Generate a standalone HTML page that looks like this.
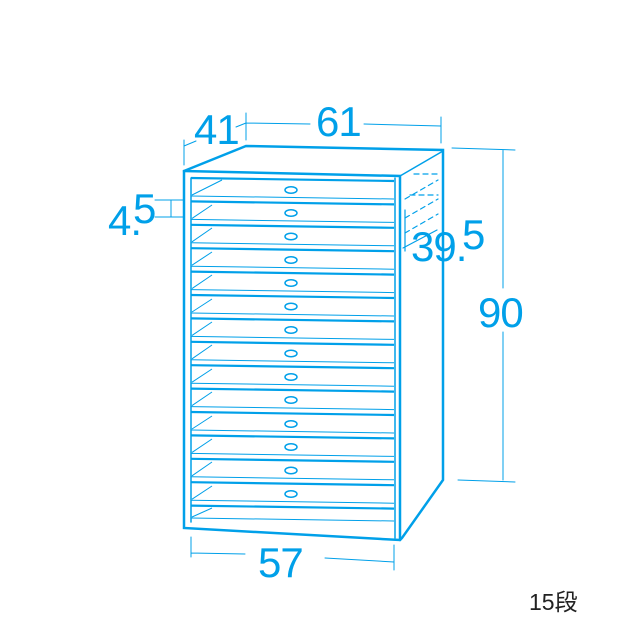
<!DOCTYPE html>
<html><head><meta charset="utf-8"><style>
html,body{margin:0;padding:0;background:#fff;width:640px;height:640px;overflow:hidden}
svg{display:block}
.t{font-family:"Liberation Sans",Arial,sans-serif;fill:#00a0e9;letter-spacing:-1px}
</style></head><body>
<svg width="640" height="640" viewBox="0 0 640 640" xmlns="http://www.w3.org/2000/svg">
<g stroke="#00a0e9" fill="none" stroke-linecap="round">
<path d="M184 171 L246 146 L443 150 L443 480 L402 538 L400 540 L184 528 Z" stroke-width="2.5"/>
<path d="M400 176 L443 151" stroke-width="1.5"/>
<path d="M184 171 L400 176 L400 540" stroke-width="2.5"/>
<path d="M191 178 L191 522 M395 178 L395 538" stroke-width="1.5"/>
<g stroke-width="1.2" stroke-dasharray="5 4">
<path d="M414 174 L438 174 M410 195 L438 195 M405 199 L438 180 M405 218 L438 199 M405 233 L438 214"/>
</g>
<path d="M403 248 L437 230 M405 251 L405 210" stroke-width="1.2"/>
<g stroke-width="1">
<path d="M246 113 L246 140 M441 117 L441 143 M246 123 L310 124 M364 124 L441 126"/>
<path d="M184 140 L184 165 M184 146 L196 141 M236 127 L246 123"/>
<path d="M452 148 L515 150 M458 480 L515 482 M503 150 L503 288 M503 332 L503 480"/>
<path d="M155 200 L183 200 M155 217 L183 217 M171 200 L171 217"/>
<path d="M191 537 L191 557 M394 545 L394 570 M191 553 L245 554 M325 558 L394 562"/>
</g>
</g>
<g class="t">
<text x="194" y="144" font-size="42">41</text>
<text x="316" y="136" font-size="42">61</text>
<text x="108" y="235" font-size="42">4.</text>
<text x="133" y="223" font-size="42">5</text>
<text x="411" y="261" font-size="42">39.</text>
<text x="462" y="249" font-size="42">5</text>
<text x="478" y="327" font-size="42">90</text>
<text x="258" y="577" font-size="42">57</text>
</g>
<text x="529" y="610" font-size="23" font-family="'Liberation Sans','Noto Sans CJK JP',sans-serif" fill="#222">15段</text>
<g stroke="#00a0e9" fill="none">
<path stroke-width="2.2" d="M191 178 L394 181 M191 201.4 L394 204.4 M191 224.8 L394 227.8 M191 248.2 L394 251.2 M191 271.6 L394 274.6 M191 295 L394 298 M191 318.4 L394 321.4 M191 341.8 L394 344.8 M191 365.2 L394 368.2 M191 388.6 L394 391.6 M191 412 L394 415 M191 435.4 L394 438.4 M191 458.8 L394 461.8 M191 482.2 L394 485.2 M191 505.6 L394 508.6"/>
<path stroke-width="1" d="M191 196 L394 199 M191 219.4 L394 222.4 M191 242.8 L394 245.8 M191 266.2 L394 269.2 M191 289.6 L394 292.6 M191 313 L394 316 M191 336.4 L394 339.4 M191 359.8 L394 362.8 M191 383.2 L394 386.2 M191 406.6 L394 409.6 M191 430 L394 433 M191 453.4 L394 456.4 M191 476.8 L394 479.8 M191 500.2 L394 503.2 M191 518 L394 521"/>
<path stroke-width="1" d="M192 195 L222 180 M192 218.4 L212 205 M192 241.8 L212 228 M192 265.2 L212 252 M192 288.6 L212 275 M192 312 L212 299 M192 335.4 L212 322 M192 358.8 L212 345 M192 382.2 L212 369 M192 405.6 L212 392 M192 429 L212 416 M192 452.4 L212 439 M192 475.8 L212 462 M192 499.2 L212 486 M192 517 L212 508"/>
<g stroke-width="1.5">
<ellipse cx="291" cy="190" rx="6" ry="3.3"/><ellipse cx="291" cy="213" rx="6" ry="3.3"/><ellipse cx="291" cy="236.5" rx="6" ry="3.3"/><ellipse cx="291" cy="260" rx="6" ry="3.3"/><ellipse cx="291" cy="283" rx="6" ry="3.3"/><ellipse cx="291" cy="306.5" rx="6" ry="3.3"/><ellipse cx="291" cy="330" rx="6" ry="3.3"/><ellipse cx="291" cy="353.5" rx="6" ry="3.3"/><ellipse cx="291" cy="377" rx="6" ry="3.3"/><ellipse cx="291" cy="400" rx="6" ry="3.3"/><ellipse cx="291" cy="424" rx="6" ry="3.3"/><ellipse cx="291" cy="447" rx="6" ry="3.3"/><ellipse cx="291" cy="470.5" rx="6" ry="3.3"/><ellipse cx="291" cy="494" rx="6" ry="3.3"/>
</g>
</g>
</svg>
</body></html>
